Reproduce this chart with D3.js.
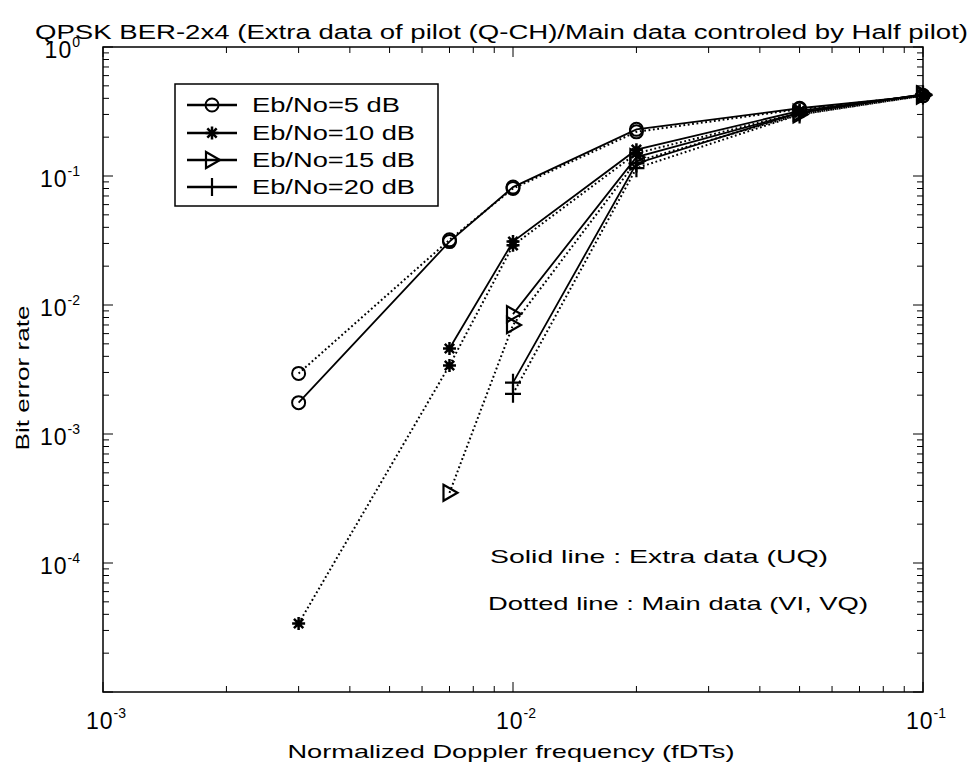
<!DOCTYPE html>
<html>
<head>
<meta charset="utf-8">
<script src="https://cdn.jsdelivr.net/npm/d3@7"></script>
<style>
  html, body { margin: 0; padding: 0; background: #fff; }
  svg { display: block; }
  text { font-family: "Liberation Sans", "DejaVu Sans", sans-serif; fill: #000; }
</style>
</head>
<body>
<svg id="chart" width="973" height="772"></svg>
<script>
// Normalized Doppler frequency (fDTs)
const doppler = [0.003, 0.007, 0.01, 0.02, 0.05, 0.1];

// Eb/No levels of each curve pair
const ebnoLabels = ["Eb/No=5 dB", "Eb/No=10 dB", "Eb/No=15 dB", "Eb/No=20 dB"];
const markers = ["circle", "asterisk", "triangle", "plus"];

// Extra data (UQ), solid lines; null = no point simulated
const extra5  = [1.75e-3, 0.031, 0.082, 0.23, 0.335, 0.42];
const extra10 = [null, 4.6e-3, 0.031, 0.16, 0.32, 0.425];
const extra15 = [null, null, 8.5e-3, 0.14, 0.31, 0.43];
const extra20 = [null, null, 2.5e-3, 0.125, 0.31, 0.43];

// Main data (VI, VQ), dotted lines
const main5  = [2.95e-3, 0.032, 0.08, 0.22, 0.33, 0.42];
const main10 = [3.4e-5, 3.4e-3, 0.029, 0.15, 0.31, 0.42];
const main15 = [null, 3.5e-4, 7.0e-3, 0.13, 0.30, 0.42];
const main20 = [null, null, 2.05e-3, 0.115, 0.30, 0.42];

const xTickExps = [-3, -2, -1];
const yTickExps = [0, -1, -2, -3, -4];

const titleText = "QPSK BER-2x4 (Extra data of pilot (Q-CH)/Main data controled by Half pilot)";
const xLabelText = "Normalized Doppler frequency (fDTs)";
const yLabelText = "Bit error rate";
const noteSolid = "Solid line : Extra data (UQ)";
const noteDotted = "Dotted line : Main data (VI, VQ)";

const extraSeries = [extra5, extra10, extra15, extra20];
const mainSeries = [main5, main10, main15, main20];

const svg = d3.select("#chart");
const plotLeft = 103, plotRight = 923, plotTop = 47, plotBottom = 692;

const x = d3.scaleLog().domain([1e-3, 1e-1]).range([plotLeft, plotRight]);
const y = d3.scaleLog().domain([1e-5, 1]).range([plotBottom, plotTop]);

// Title
svg.append("text")
  .attr("x", 35).attr("y", 39)
  .attr("font-size", 20)
  .attr("textLength", 933).attr("lengthAdjust", "spacingAndGlyphs")
  .text(titleText);

// Plot box
svg.append("rect")
  .attr("x", plotLeft).attr("y", plotTop)
  .attr("width", plotRight - plotLeft).attr("height", plotBottom - plotTop)
  .attr("fill", "none").attr("stroke", "#000").attr("stroke-width", 1.5);

// Ticks (inward, on all four sides)
const tickG = svg.append("g").attr("stroke", "#000").attr("stroke-width", 1);
const isMajor = v => Math.abs(Math.log10(v) - Math.round(Math.log10(v))) < 1e-9;
const xMinor = [];
for (let e = -3; e < -1; e++) for (let m = 1; m <= 9; m++) xMinor.push(m * Math.pow(10, e));
xMinor.push(0.1);
xMinor.forEach(v => {
  const len = isMajor(v) ? 10 : 6;
  const px = x(v);
  tickG.append("line").attr("x1", px).attr("x2", px).attr("y1", plotBottom).attr("y2", plotBottom - len);
  tickG.append("line").attr("x1", px).attr("x2", px).attr("y1", plotTop).attr("y2", plotTop + len);
});
const yMinor = [];
for (let e = -5; e < 0; e++) for (let m = 1; m <= 9; m++) yMinor.push(m * Math.pow(10, e));
yMinor.push(1);
yMinor.forEach(v => {
  const len = isMajor(v) ? 10 : 6;
  const py = y(v);
  tickG.append("line").attr("x1", plotLeft).attr("x2", plotLeft + len).attr("y1", py).attr("y2", py);
  tickG.append("line").attr("x1", plotRight).attr("x2", plotRight - len).attr("y1", py).attr("y2", py);
});

// Tick labels: 10 with superscript exponent
function powLabel(g, px, py, exp, anchor) {
  const t = g.append("text").attr("x", px).attr("y", py).attr("text-anchor", anchor)
    .attr("font-size", 23).attr("letter-spacing", 1);
  t.append("tspan").text("10");
  t.append("tspan").attr("font-size", 14).attr("letter-spacing", 0).attr("dy", -11)
    .text(exp === 0 ? "0" : "-" + Math.abs(exp));
}
const labG = svg.append("g");
xTickExps.forEach(e => powLabel(labG, x(Math.pow(10, e)) + 3, 729, e, "middle"));
yTickExps.forEach(e => powLabel(labG, 80, y(Math.pow(10, e)) + 11, e, "end"));

// Axis titles
svg.append("text")
  .attr("x", 511).attr("y", 758).attr("text-anchor", "middle")
  .attr("font-size", 19)
  .attr("textLength", 447).attr("lengthAdjust", "spacingAndGlyphs")
  .text(xLabelText);
svg.append("text")
  .attr("transform", "translate(29,378) rotate(-90)")
  .attr("text-anchor", "middle")
  .attr("font-size", 19)
  .attr("textLength", 145).attr("lengthAdjust", "spacingAndGlyphs")
  .text(yLabelText);

// Marker drawing
function drawMarker(g, kind, cx, cy) {
  if (kind === "circle") {
    g.append("circle").attr("cx", cx).attr("cy", cy).attr("r", 6.5)
      .attr("fill", "none").attr("stroke", "#000").attr("stroke-width", 2);
  } else if (kind === "asterisk") {
    const r = 6.5, d = r * 0.72;
    g.append("path")
      .attr("d", `M${cx - r},${cy}H${cx + r}M${cx},${cy - r}V${cy + r}` +
                 `M${cx - d},${cy - d}L${cx + d},${cy + d}M${cx - d},${cy + d}L${cx + d},${cy - d}`)
      .attr("stroke", "#000").attr("stroke-width", 2.5).attr("fill", "none");
    g.append("circle").attr("cx", cx).attr("cy", cy).attr("r", 3).attr("fill", "#000");
  } else if (kind === "triangle") {
    g.append("path")
      .attr("d", `M${cx - 6},${cy - 8}L${cx + 8},${cy}L${cx - 6},${cy + 8}Z`)
      .attr("fill", "none").attr("stroke", "#000").attr("stroke-width", 2.2);
  } else if (kind === "plus") {
    g.append("path")
      .attr("d", `M${cx - 8},${cy}H${cx + 8}M${cx},${cy - 9}V${cy + 9}`)
      .attr("stroke", "#000").attr("stroke-width", 2.2);
  }
}

const line = d3.line()
  .defined(d => d[1] != null)
  .x(d => x(d[0])).y(d => y(d[1]));

const plotG = svg.append("g");
function drawSeries(values, kind, dotted) {
  const pts = doppler.map((f, i) => [f, values[i]]);
  plotG.append("path")
    .attr("d", line(pts))
    .attr("fill", "none").attr("stroke", "#000")
    .attr("stroke-width", dotted ? 2 : 1.8)
    .attr("stroke-dasharray", dotted ? "1.8,2.6" : null);
  pts.filter(p => p[1] != null).forEach(p => drawMarker(plotG, kind, x(p[0]), y(p[1])));
}
mainSeries.forEach((s, i) => drawSeries(s, markers[i], true));
extraSeries.forEach((s, i) => drawSeries(s, markers[i], false));

// Legend
const lg = svg.append("g");
lg.append("rect").attr("x", 175).attr("y", 84).attr("width", 263).attr("height", 122)
  .attr("fill", "#fff").attr("stroke", "#000").attr("stroke-width", 1.5);
const legendRows = [105, 133, 160, 187];
const legendWidths = [148, 163, 163, 163];
ebnoLabels.forEach((lab, i) => {
  const ry = legendRows[i];
  lg.append("line").attr("x1", 187).attr("x2", 237).attr("y1", ry).attr("y2", ry)
    .attr("stroke", "#000").attr("stroke-width", 2.5);
  drawMarker(lg, markers[i], 212, ry);
  lg.append("text").attr("x", 252).attr("y", ry + 7).attr("font-size", 20)
    .attr("textLength", legendWidths[i]).attr("lengthAdjust", "spacingAndGlyphs")
    .text(lab);
});

// Line-style notes
svg.append("text").attr("x", 490).attr("y", 563).attr("font-size", 19)
  .attr("textLength", 338).attr("lengthAdjust", "spacingAndGlyphs").text(noteSolid);
svg.append("text").attr("x", 488).attr("y", 610).attr("font-size", 19)
  .attr("textLength", 380).attr("lengthAdjust", "spacingAndGlyphs").text(noteDotted);
</script>
</body>
</html>
